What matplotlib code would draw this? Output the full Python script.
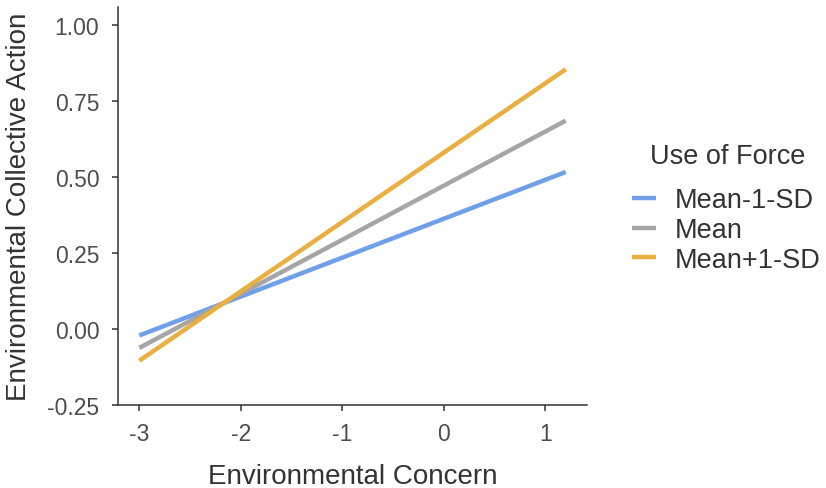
import matplotlib
matplotlib.use("Agg")
import matplotlib.pyplot as plt

plt.rcParams['font.family'] = ['Liberation Sans', 'DejaVu Sans']

# simple slopes at -3 and 1.2 of environmental concern
concern = [-3.0, 1.2]
low_force = [-0.021, 0.517]
mean_force = [-0.062, 0.686]
high_force = [-0.104, 0.855]
labels = ["Mean-1-SD", "Mean", "Mean+1-SD"]
colors = ["#6f9fe9", "#a6a6a6", "#e9b041"]

xticks = [-3, -2, -1, 0, 1]
yticks = [-0.25, 0.0, 0.25, 0.50, 0.75, 1.00]

fig = plt.figure(figsize=(8.26, 4.89), dpi=100)
ax = fig.add_axes([0.1429, 0.1697, 0.5678, 0.8139])

for ys, lab, col in zip([low_force, mean_force, high_force], labels, colors):
    ax.plot(concern, ys, color=col, lw=3.2, label=lab, solid_capstyle="butt")

ax.set_xlim(-3.21, 1.41)
ax.set_ylim(-0.25, 1.06)
ax.set_xticks(xticks)
ax.set_xticklabels([str(t) for t in xticks])
ax.set_yticks(yticks)
ax.set_yticklabels(["%.2f" % t for t in yticks])

for s in ["top", "right"]:
    ax.spines[s].set_visible(False)
for s in ["left", "bottom"]:
    ax.spines[s].set_linewidth(1.1)
    ax.spines[s].set_color("#333333")

ax.tick_params(axis="both", direction="out", length=4.5, width=1.1, color="#333333",
               labelsize=16.5, labelcolor="#4d4d4d")
ax.tick_params(axis="x", pad=8)
ax.tick_params(axis="y", pad=9)
ax.set_xlabel("Environmental Concern", fontsize=20, color="#333333", labelpad=12.5)
ax.set_ylabel("Environmental Collective Action", fontsize=20, color="#333333", labelpad=11)

leg = ax.legend(loc="center left", bbox_to_anchor=(0.765, 1 - 231 / 489),
                bbox_transform=fig.transFigure, borderaxespad=0, borderpad=0,
                frameon=False, fontsize=19.5, handlelength=0.9,
                handletextpad=0.68, labelspacing=0.14)
for t in leg.get_texts():
    t.set_color("#333333")
fig.text(728 / 826, 1 - 157 / 489, "Use of Force", fontsize=19.5, color="#333333",
         ha="center", va="center")

fig.savefig("out.png", dpi=100)
